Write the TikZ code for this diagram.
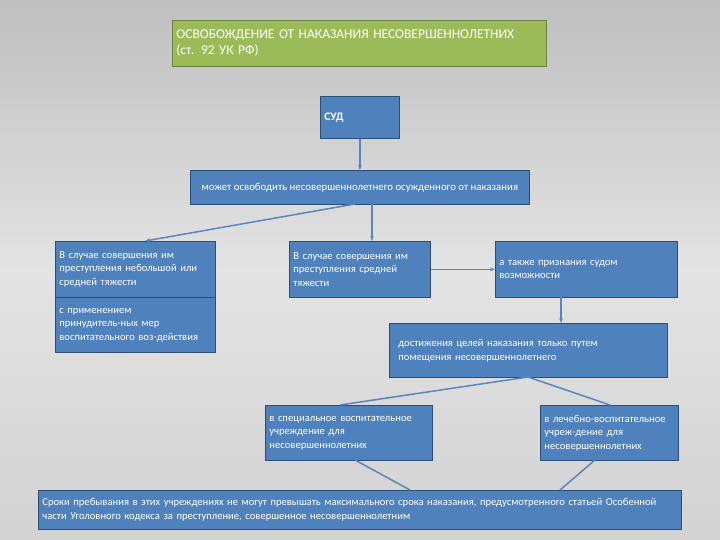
\documentclass[tikz,border=0pt]{standalone}
\usepackage{fontspec}
\setmainfont{Carlito}
\usetikzlibrary{arrows.meta}
\definecolor{bx}{HTML}{4F81BD}
\definecolor{bxd}{HTML}{2C4D75}
\definecolor{gr}{HTML}{9BBB59}
\definecolor{ln}{HTML}{5A86BC}
\tikzset{
 box/.style={draw=bxd,line width=0.8pt,fill=bx,text=white,font=\fontsize{10.6}{13.5}\selectfont,align=left,inner sep=4pt},
 con/.style={draw=ln,line width=1.5pt},
 arr/.style={con,-{Stealth[length=5pt]}}
}
\begin{document}
\begin{tikzpicture}[x=1pt,y=-1pt]
\shade[top color=gray!50,bottom color=gray!35,middle color=gray!22] (0,0) rectangle (720,540);
\useasboundingbox (0,0) rectangle (720,540);
\node[box,draw=gr!70!black,fill=gr,minimum width=374pt,minimum height=46pt,text width=366pt,anchor=north west,font=\fontsize{13.5}{16}\selectfont] (title) at (172,20) {ОСВОБОЖДЕНИЕ ОТ НАКАЗАНИЯ НЕСОВЕРШЕННОЛЕТНИХ\\(ст. 92 УК РФ)};
\node[box,minimum width=79pt,minimum height=42pt,text width=71pt,anchor=north west,font=\fontsize{11.5}{13}\bfseries] (sud) at (320,96) {СУД};
\node[box,minimum width=339pt,minimum height=34pt,align=center,anchor=north west,font=\fontsize{10.8}{12}\selectfont] (court) at (190,170) {может освободить несовершеннолетнего осужденного от наказания};
\node[box,minimum width=160pt,minimum height=56pt,text width=152pt,anchor=north west] (lt) at (55,241) {В случае совершения им\\преступления небольшой или\\средней тяжести};
\node[box,minimum width=160pt,minimum height=55pt,text width=152pt,anchor=north west] (lb) at (55,297) {с применением\\принудитель-ных мер\\воспитательного воз-действия};
\node[box,minimum width=141pt,minimum height=56pt,text width=133pt,anchor=north west] (mid) at (289,241) {В случае совершения им\\преступления средней\\тяжести};
\node[box,minimum width=182pt,minimum height=56pt,text width=174pt,anchor=north west] (rt) at (495,241) {а также признания судом\\возможности};
\node[box,minimum width=278pt,minimum height=54pt,text width=260pt,anchor=north west] (goal) at (389,323) {\\[-6pt]достижения целей наказания только путем\\помещения несовершеннолетнего};
\node[box,minimum width=167pt,minimum height=55pt,text width=159pt,anchor=north west] (spec) at (265,405) {в специальное воспитательное\\учреждение для\\несовершеннолетних};
\node[box,minimum width=138pt,minimum height=55pt,text width=130pt,anchor=north west] (med) at (540,405) {в лечебно-воспитательное\\учреж-дение для\\несовершеннолетних};
\node[box,minimum width=643pt,minimum height=39pt,text width=635pt,anchor=north west,font=\fontsize{10.6}{13.5}\selectfont] (bot) at (38,490) {Сроки пребывания в этих учреждениях не могут превышать максимального срока наказания, предусмотренного статьей Особенной\\части Уголовного кодекса за преступление, совершенное несовершеннолетним};
\draw[arr] (sud.south) -- (court.north -| sud.south);
\draw[arr] (355,204) -- (145,241);
\draw[arr] (372,204) -- (372,241);
\draw[arr] (mid.east) -- (rt.west |- mid.east);
\draw[arr] (561,297) -- (561,323);
\draw[con] (528,377) -- (340,405);
\draw[con] (528,377) -- (610,405);
\draw[con] (355,460) -- (410,490);
\draw[con] (595,460) -- (560,490);
\end{tikzpicture}
\end{document}
